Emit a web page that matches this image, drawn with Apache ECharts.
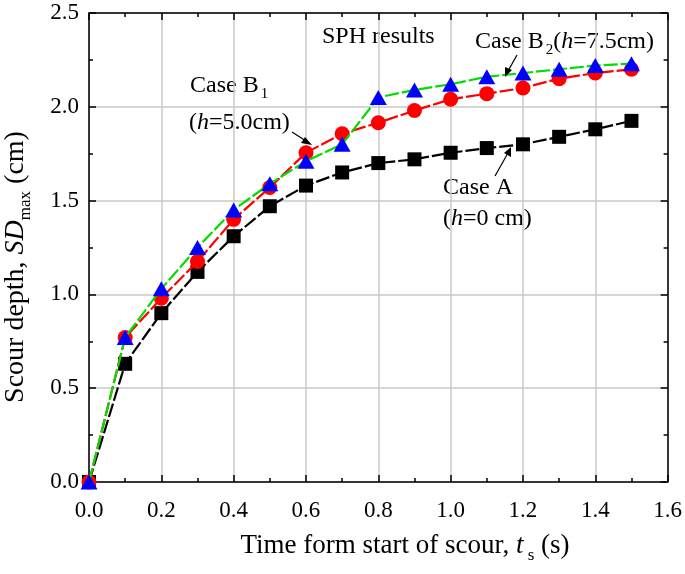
<!DOCTYPE html>
<html><head><meta charset="utf-8">
<script src="https://cdn.jsdelivr.net/npm/echarts@6/dist/echarts.min.js"></script>
<style>html,body{margin:0;padding:0;background:#fff}#c{width:685px;height:574px}</style>
</head><body><div id="c"></div>
<script>
const times = [0, 0.1, 0.2, 0.3, 0.4, 0.5, 0.6, 0.7, 0.8, 0.9, 1.0, 1.1, 1.2, 1.3, 1.4, 1.5];
const caseA  = [0, 0.63, 0.90, 1.12, 1.31, 1.47, 1.58, 1.65, 1.70, 1.72, 1.755, 1.78, 1.80, 1.84, 1.88, 1.925];
const caseB1 = [0, 0.77, 0.98, 1.175, 1.40, 1.57, 1.755, 1.856, 1.915, 1.98, 2.04, 2.07, 2.10, 2.15, 2.18, 2.20];
const caseB2 = [0, 0.77, 1.03, 1.25, 1.45, 1.59, 1.71, 1.80, 2.05, 2.09, 2.12, 2.16, 2.18, 2.20, 2.22, 2.23];
const xTicks = {min: 0, max: 1.6, interval: 0.2};
const yTicks = {min: 0, max: 2.5, interval: 0.5};

const FONT = '"Liberation Serif", "Times New Roman", serif';
const chart = echarts.init(document.getElementById('c'));
const pair = (ys) => times.map((t, i) => [t, ys[i]]);
const baseAxis = {
  axisLine: {show: true, onZero: false, lineStyle: {color: '#000', width: 1.5}},
  axisTick: {show: true, inside: true, length: 7, lineStyle: {color: '#000', width: 1.5}},
  minorTick: {show: true, splitNumber: 2, length: 4, lineStyle: {color: '#000', width: 1.5}},
};
const labelStyle = {fontFamily: FONT, fontSize: 23, color: '#000'};
const dash = [14, 3];
const T = (size, style) => (style ? style + ' ' : '') + size + 'px ' + FONT;
chart.setOption({
  animation: false,
  grid: {left: 89, right: 14, top: 13, bottom: 92},
  xAxis: [
    Object.assign({}, baseAxis, {
      type: 'value', min: xTicks.min, max: xTicks.max, interval: xTicks.interval,
      axisLabel: Object.assign({margin: 17, formatter: v => v.toFixed(1)}, labelStyle),
      splitLine: {show: true, lineStyle: {color: '#c8c8c8', width: 1.5}}
    }),
    Object.assign({}, baseAxis, {
      type: 'value', position: 'top', min: xTicks.min, max: xTicks.max, interval: xTicks.interval,
      axisLabel: {show: false}, splitLine: {show: false}
    })
  ],
  yAxis: [
    Object.assign({}, baseAxis, {
      type: 'value', min: yTicks.min, max: yTicks.max, interval: yTicks.interval,
      axisLabel: Object.assign({margin: 10, formatter: v => v.toFixed(1)}, labelStyle),
      splitLine: {show: true, lineStyle: {color: '#c8c8c8', width: 1.5}}
    }),
    Object.assign({}, baseAxis, {
      type: 'value', position: 'right', min: yTicks.min, max: yTicks.max, interval: yTicks.interval,
      axisLabel: {show: false}, splitLine: {show: false}
    })
  ],
  series: [
    {type: 'line', name: 'Case A', data: pair(caseA), symbol: 'rect', symbolSize: 14,
     itemStyle: {color: '#000'}, lineStyle: {color: '#000', width: 2.2, type: dash}, clip: true, z: 3},
    {type: 'line', name: 'Case B1', data: pair(caseB1), symbol: 'circle', symbolSize: 15,
     itemStyle: {color: '#ff0000'}, lineStyle: {color: '#ff0000', width: 2.2, type: dash}, clip: true, z: 4},
    {type: 'line', name: 'Case B2', data: pair(caseB2), symbol: 'triangle', symbolSize: [17, 15],
     itemStyle: {color: '#0000ff'}, lineStyle: {color: '#00dd00', width: 2.2, type: dash}, clip: true, z: 5}
  ],
  graphic: [
    // axis titles
    {type: 'text', x: 405, y: 546, style: {
      text: '{n|Time form start of scour, }{i|t}{s| s}{n| (s)}', align: 'center', verticalAlign: 'middle',
      rich: {n: {font: T(27), fill: '#000'}, i: {font: T(27, 'italic'), fill: '#000'}, s: {font: T(17), fill: '#000', padding: [20, 0, 0, 0]}}}},
    {type: 'text', x: 16, y: 267, rotation: Math.PI / 2, style: {
      text: '{n|Scour depth, }{i|SD}{s|max}{n| (cm)}', align: 'center', verticalAlign: 'middle',
      rich: {n: {font: T(28), fill: '#000'}, i: {font: T(28, 'italic'), fill: '#000'}, s: {font: T(17), fill: '#000', padding: [20, 0, 0, 0]}}}},
    // annotations
    {type: 'text', x: 322, y: 37, style: {text: 'SPH results', font: T(24), fill: '#000', verticalAlign: 'middle'}},
    {type: 'text', x: 190, y: 86, style: {verticalAlign: 'middle',
      text: '{n|Case B}{s|1}', rich: {n: {font: T(24), fill: '#000'}, s: {font: T(15), fill: '#000', padding: [16, 0, 0, 2]}}}},
    {type: 'text', x: 189, y: 123, style: {verticalAlign: 'middle',
      text: '{n|(}{i|h}{n|=5.0cm)}', rich: {n: {font: T(24), fill: '#000'}, i: {font: T(24, 'italic'), fill: '#000'}}}},
    {type: 'text', x: 475, y: 42, style: {verticalAlign: 'middle',
      text: '{n|Case B}{s|2}{n|(}{i|h}{n|=7.5cm)}', rich: {n: {font: T(24), fill: '#000'}, i: {font: T(24, 'italic'), fill: '#000'}, s: {font: T(15), fill: '#000', padding: [16, 0, 0, 2]}}}},
    {type: 'text', x: 443, y: 188, style: {text: 'Case A', font: T(24), fill: '#000', verticalAlign: 'middle'}},
    {type: 'text', x: 443, y: 219, style: {verticalAlign: 'middle',
      text: '{n|(}{i|h}{n|=0 cm)}', rich: {n: {font: T(24), fill: '#000'}, i: {font: T(24, 'italic'), fill: '#000'}}}},
    // arrows
    {type: 'line', shape: {x1: 292, y1: 132, x2: 306, y2: 141}, style: {stroke: '#000', lineWidth: 1.2}, z: 10},
    {type: 'polygon', shape: {points: [[312, 145], [301, 143], [305, 137]]}, style: {fill: '#000'}, z: 10},
    {type: 'line', shape: {x1: 517, y1: 55, x2: 508, y2: 71}, style: {stroke: '#000', lineWidth: 1.2}, z: 10},
    {type: 'polygon', shape: {points: [[505, 77], [505, 67], [512, 70]]}, style: {fill: '#000'}, z: 10},
    {type: 'line', shape: {x1: 495, y1: 176, x2: 508, y2: 153}, style: {stroke: '#000', lineWidth: 1.2}, z: 10},
    {type: 'polygon', shape: {points: [[511, 147], [511, 157], [504, 153]]}, style: {fill: '#000'}, z: 10}
  ]
});
</script></body></html>
